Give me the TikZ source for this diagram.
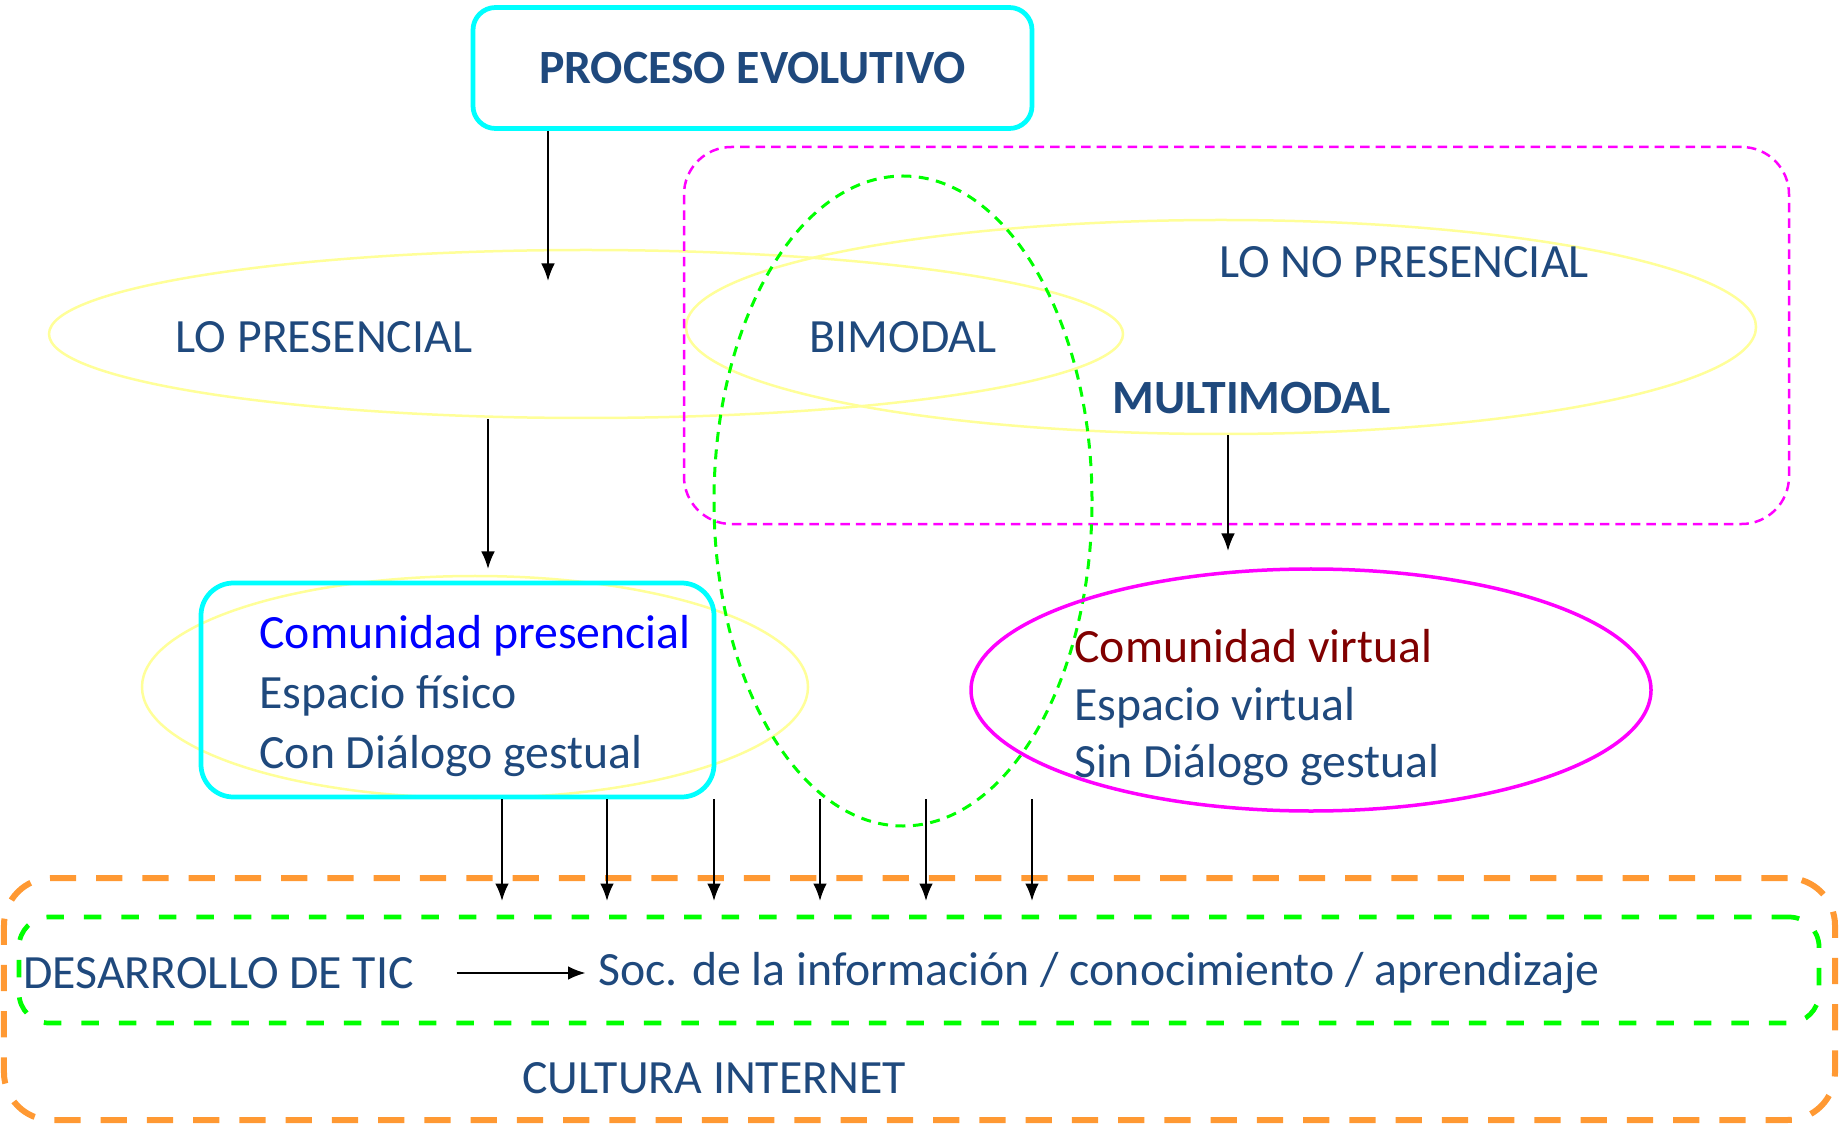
\documentclass[tikz,border=0pt]{standalone}
\usepackage{fontspec}
\setmainfont{Carlito}
\usetikzlibrary{arrows.meta,shapes.geometric}

\definecolor{txtblue}{RGB}{31,73,125}
\definecolor{cyanline}{RGB}{0,255,255}
\definecolor{paleyellow}{RGB}{255,255,153}
\definecolor{magline}{RGB}{255,0,255}
\definecolor{greenline}{RGB}{0,255,0}
\definecolor{orangeline}{RGB}{255,153,51}
\definecolor{darkred}{RGB}{128,0,0}

\begin{document}
\begin{tikzpicture}[
  x=0.4pt, y=-0.4pt,
  >={Latex[length=7pt,width=5.5pt]},
  every node/.style={font=\fontsize{19.1}{24}\selectfont, text=txtblue},
  cbox/.style={draw=cyanline, line width=1.9pt, inner sep=0pt},
  yell/.style={ellipse, draw=paleyellow, line width=1pt, inner sep=0pt},
  lab/.style={inner sep=0pt},
  arr/.style={->, line width=0.8pt}
]

\useasboundingbox (0,0) rectangle (1839,1124);

% Ellipses and frames
\node (presEll)   [yell, minimum width=429.6pt, minimum height=67.2pt] at (586,334) {};
\node (noPresEll) [yell, minimum width=428pt, minimum height=85.6pt] at (1221,327) {};
\node (comEll)    [yell, minimum width=266.4pt, minimum height=88.8pt] at (475,687) {};

\node (multi) [draw=magline, dash pattern=on 3.8pt off 2.4pt, line width=1pt,
  rounded corners=19pt, minimum width=442pt, minimum height=150.8pt] at (1236.5,335.5) {};
\node (bimEll) [ellipse, draw=greenline, dash pattern=on 4pt off 3pt, line width=1.2pt,
  minimum width=151.2pt, minimum height=260pt] at (903,501) {};
\node (virEll) [ellipse, draw=magline, line width=1.4pt,
  minimum width=272pt, minimum height=96.8pt] at (1311,690) {};

\node (cultura) [draw=orangeline, dash pattern=on 10.5pt off 8pt, line width=2.4pt,
  rounded corners=19pt, minimum width=732.4pt, minimum height=96.8pt] at (919.5,999) {};
\node (sociedad) [draw=greenline, dash pattern=on 7pt off 8pt, line width=1.9pt,
  rounded corners=12pt, minimum width=720pt, minimum height=42.4pt] at (919,970) {};

% Boxes
\node (proc) [cbox, rounded corners=9pt, minimum width=223.6pt, minimum height=48.4pt,
  font=\fontsize{19.1}{24}\selectfont\bfseries] at (752.5,68) {PROCESO EVOLUTIVO};
\node (comBox) [cbox, rounded corners=13pt, minimum width=205.2pt, minimum height=85.6pt]
  at (457.5,690) {};

% Texts
\node (presTxt)   [lab] at (324,337) {LO PRESENCIAL};
\node (bimTxt)    [lab] at (903,337) {BIMODAL};
\node (noPresTxt) [lab] at (1404,262) {LO NO PRESENCIAL};
\node (multiTxt)  [lab, font=\fontsize{19.1}{24}\selectfont\bfseries] at (1252,398) {MULTIMODAL};

\node (presList) [lab, anchor=west, align=left] at (259,696)
  {\textcolor{blue}{Comunidad presencial}\\Espacio físico\\Con Diálogo gestual};
\node (virList) [lab, anchor=west, align=left, font=\fontsize{19.1}{23}\selectfont] at (1074,708)
  {\textcolor{darkred}{Comunidad virtual}\\Espacio virtual\\Sin Diálogo gestual};

\node (tic) [lab, anchor=west] at (23,973) {DESARROLLO DE TIC};
\node (soc) [lab, anchor=west] at (598,973) {Soc. de la información / conocimiento / aprendizaje};
\node (culTxt) [lab] at (714,1078) {CULTURA INTERNET};

% Arrows
\coordinate (p1) at (548,281);
\coordinate (p2) at (488,569);
\coordinate (p3) at (1228,551);
\draw[arr] (proc.south -| p1) -- (p1);
\draw[arr] (presEll.south -| p2) -- (p2);
\draw[arr] (noPresEll.south -| p3) -- (p3);

\foreach \x [count=\i] in {502,607,714,820,926,1032} {
  \coordinate (d\i) at (\x,901);
  \draw[arr] (comBox.south -| d\i) -- (d\i);
}

\draw[arr] ([xshift=17pt]tic.east) -- ([xshift=-5pt]soc.west);

\end{tikzpicture}
\end{document}
